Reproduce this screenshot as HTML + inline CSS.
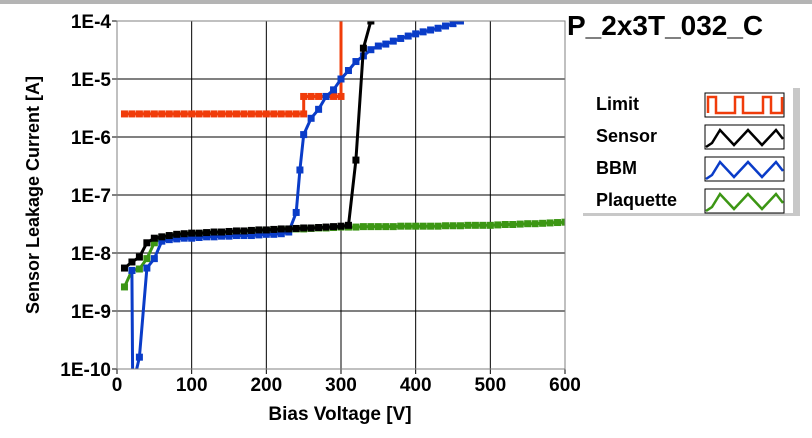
<!DOCTYPE html>
<html><head><meta charset="utf-8"><style>
body{margin:0;background:#fff;font-family:"Liberation Sans",sans-serif}
svg text{font-family:"Liberation Sans",sans-serif;font-weight:bold}
</style></head><body>
<svg id="c" width="812" height="433" xmlns="http://www.w3.org/2000/svg">
<rect x="0" y="0" width="812" height="433" fill="#fff"/>
<rect x="0" y="0" width="812" height="4" fill="#b4b4b4"/>
<g id="grid"></g>
<g id="series"></g>
<g id="axes"></g>
<text x="567" y="35" font-size="28" fill="#000">P_2x3T_032_C</text>
<text x="340" y="420" font-size="19" text-anchor="middle">Bias Voltage [V]</text>
<text transform="translate(39,195) rotate(-90)" font-size="18" text-anchor="middle">Sensor Leakage Current [A]</text>
<g>
<rect x="583" y="86" width="210" height="128" fill="#fff"/>
<rect x="793" y="88" width="7" height="126" fill="#c8c8c8"/>
<rect x="583" y="213" width="217" height="3" fill="#c8c8c8"/>
<g id="legend"></g>
</g>
</svg>
<script>
const xTicks=[0,100,200,300,400,500,600];
const yTicks=[-4,-5,-6,-7,-8,-9,-10];
const yTickLabels=["1E-4","1E-5","1E-6","1E-7","1E-8","1E-9","1E-10"];
const limitV=[10,20,30,40,50,60,70,80,90,100,110,120,130,140,150,160,170,180,190,200,210,220,230,240,250,250,260,270,280,290,300,300];
const limitI=[2.5e-6,2.5e-6,2.5e-6,2.5e-6,2.5e-6,2.5e-6,2.5e-6,2.5e-6,2.5e-6,2.5e-6,2.5e-6,2.5e-6,2.5e-6,2.5e-6,2.5e-6,2.5e-6,2.5e-6,2.5e-6,2.5e-6,2.5e-6,2.5e-6,2.5e-6,2.5e-6,2.5e-6,2.5e-6,5e-6,5e-6,5e-6,5e-6,5e-6,5e-6,1e-3];
const sensorV=[10,20,30,40,50,60,70,80,90,100,110,120,130,140,150,160,170,180,190,200,210,220,230,240,250,260,270,280,290,300,310,320,330,340];
const sensorI=[5.5e-9,7e-9,8.5e-9,1.5e-8,1.8e-8,1.9e-8,2.0e-8,2.1e-8,2.15e-8,2.2e-8,2.2e-8,2.25e-8,2.3e-8,2.3e-8,2.35e-8,2.4e-8,2.4e-8,2.45e-8,2.5e-8,2.5e-8,2.55e-8,2.6e-8,2.6e-8,2.65e-8,2.7e-8,2.7e-8,2.75e-8,2.8e-8,2.85e-8,2.9e-8,3.0e-8,4e-7,3.4e-5,1e-4];
const bbmV=[20,21,30,40,50,60,70,80,90,100,110,120,130,140,150,160,170,180,190,200,210,220,230,240,245,250,260,270,280,290,300,310,320,330,340,350,360,370,380,390,400,410,420,430,440,450,460];
const bbmI=[5e-9,5e-11,1.6e-10,5.5e-9,8e-9,1.6e-8,1.7e-8,1.75e-8,1.8e-8,1.8e-8,1.85e-8,1.9e-8,1.9e-8,1.95e-8,1.95e-8,2e-8,2e-8,2e-8,2.05e-8,2.1e-8,2.1e-8,2.15e-8,2.3e-8,5e-8,2.7e-7,1.1e-6,2.1e-6,3e-6,5e-6,6.5e-6,1e-5,1.4e-5,2e-5,2.5e-5,3.2e-5,3.7e-5,4e-5,4.5e-5,5e-5,5.5e-5,6e-5,6.5e-5,7e-5,7.5e-5,8.2e-5,9e-5,1e-4];
const plaqV=[10,20,30,40,50,60,70,80,90,100,110,120,130,140,150,160,170,180,190,200,210,220,230,240,250,260,270,280,290,300,310,320,330,340,350,360,370,380,390,400,410,420,430,440,450,460,470,480,490,500,510,520,530,540,550,560,570,580,590,600];
const plaqI=[2.6e-9,5e-9,5.3e-9,8e-9,1.5e-8,1.8e-8,1.9e-8,2e-8,2.05e-8,2.1e-8,2.15e-8,2.2e-8,2.2e-8,2.25e-8,2.3e-8,2.3e-8,2.35e-8,2.4e-8,2.4e-8,2.45e-8,2.5e-8,2.5e-8,2.55e-8,2.6e-8,2.6e-8,2.65e-8,2.7e-8,2.7e-8,2.75e-8,2.8e-8,2.8e-8,2.8e-8,2.85e-8,2.85e-8,2.85e-8,2.85e-8,2.85e-8,2.9e-8,2.9e-8,2.9e-8,2.9e-8,2.9e-8,2.9e-8,2.95e-8,2.95e-8,2.95e-8,3e-8,3e-8,3e-8,3e-8,3.05e-8,3.1e-8,3.1e-8,3.15e-8,3.2e-8,3.2e-8,3.25e-8,3.3e-8,3.35e-8,3.4e-8];
const legendNames=["Limit","Sensor","BBM","Plaquette"];
const colors=["#f03c0a","#000000","#0a3cc8","#3c9614"];

const X0=117,X1=565,Y0=21,Y1=369;
const xs=v=>X0+(v/600)*(X1-X0);
const ys=i=>{let l=Math.log10(i);return Y0+(-4-l)/6*(Y1-Y0);};
const NS="http://www.w3.org/2000/svg";
function mk(t,a,p){const e=document.createElementNS(NS,t);for(const k in a)e.setAttribute(k,a[k]);p.appendChild(e);return e;}
const grid=document.getElementById('grid'),axes=document.getElementById('axes'),ser=document.getElementById('series');
xTicks.forEach(v=>{
 const l=mk('line',{x1:xs(v),x2:xs(v),y1:Y0,y2:Y1+5,stroke:'#000','stroke-width':1},grid);
 
 
 const t=mk('text',{x:xs(v),y:391,'font-size':19,'text-anchor':'middle'},axes);t.textContent=v;
 
 
});
yTicks.forEach((v,k)=>{
 const y=ys(Math.pow(10,v));
 const l=mk('line',{x1:X0-5,x2:X1,y1:y,y2:y,stroke:'#000','stroke-width':1},grid);
 
 
 const t=mk('text',{x:111,y:y+7,'font-size':19,'text-anchor':'end'},axes);t.textContent=yTickLabels[k];
 
 
});
const fr=mk('rect',{x:X0,y:Y0,width:X1-X0,height:Y1-Y0,fill:'none',stroke:'#808080','stroke-width':1},axes);


mk('clipPath',{id:'clp'},ser).appendChild(document.createElementNS(NS,'rect'));
const cr=ser.querySelector('clipPath rect');cr.setAttribute('x',X0);cr.setAttribute('y',Y0);cr.setAttribute('width',X1-X0);cr.setAttribute('height',Y1-Y0);
function draw(V,I,col,name,sq){
 const g=mk('g',{'clip-path':'url(#clp)'},ser);
 
 
 const pts=V.map((v,k)=>xs(v).toFixed(1)+','+ys(I[k]).toFixed(1)).join(' ');
 mk('polyline',{points:pts,fill:'none',stroke:col,'stroke-width':3},g);
 V.forEach((v,k)=>{if(I[k]>1e-4*1.01)return;const m=mk('rect',{x:xs(v)-3.5,y:ys(I[k])-3.5,width:7,height:7,fill:col},g);
  
  });
}
draw(plaqV,plaqI,colors[3],'plaquette');
draw(limitV,limitI,colors[0],'limit');
draw(bbmV,bbmI,colors[2],'bbm');
draw(sensorV,sensorI,colors[1],'sensor');
const lg=document.getElementById('legend');
legendNames.forEach((n,k)=>{
 const y=93+k*32;
 const t=mk('text',{x:596,y:y+17,'font-size':18},lg);t.textContent=n;
 
 
 const b=mk('rect',{x:705,y:y,width:79,height:24,fill:'#fff',stroke:'#000','stroke-width':1},lg);
 
 
 let p;
 if(k==0)p=`708,${y+20} 708,${y+4} 716,${y+4} 716,${y+20} 735,${y+20} 735,${y+4} 743,${y+4} 743,${y+20} 763,${y+20} 763,${y+4} 771,${y+4} 771,${y+20} 782,${y+20} 782,${y+4}`;
 else p=`706,${y+22} 712,${y+18} 720,${y+5} 734,${y+20} 748,${y+5} 762,${y+20} 776,${y+5} 783,${y+14}`;
 mk('polyline',{points:p,fill:'none',stroke:colors[k],'stroke-width':2.5},lg);
});
</script>
</body></html>
